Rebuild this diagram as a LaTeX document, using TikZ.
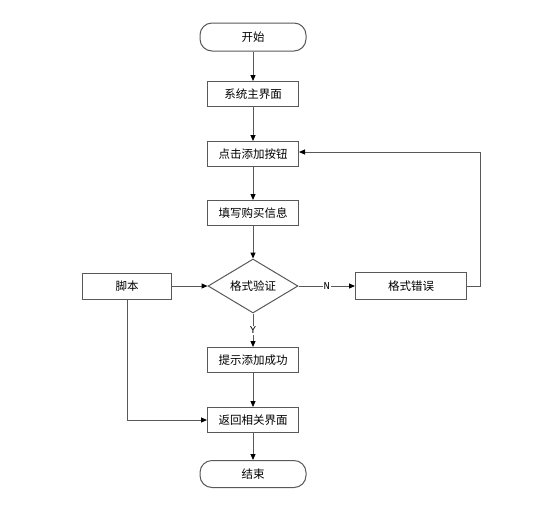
\documentclass[tikz,border=0pt]{standalone}
\usepackage{fontspec}
\newfontfamily\cjk{Noto Sans CJK SC}
\newfontfamily\monof{Liberation Mono}
\usetikzlibrary{arrows.meta,shapes.geometric}
\begin{document}
\begin{tikzpicture}[x=1pt,y=-1pt,
  font=\cjk\fontsize{11.5}{13}\selectfont,
  line width=1pt,
  box/.style={draw=black!65, fill=white, minimum width=91pt, minimum height=25pt, inner sep=0pt},
  term/.style={draw=black!65, fill=white, rounded corners=12pt, minimum width=106pt, minimum height=28pt, inner sep=0pt},
  dec/.style={draw=black!65, fill=white, diamond, aspect=1.67, minimum width=90pt, minimum height=54pt, inner sep=0pt},
  conn/.style={draw=black!65, -{Triangle[length=6pt,width=5pt,color=black]}},
  lbl/.style={font=\monof\fontsize{10.5}{11}\selectfont, fill=white, inner sep=1pt}
]
\useasboundingbox (0,0) rectangle (543,504);
\node[term] (start) at (253,37) {开始};
\node[box] (main) at (253,94) {系统主界面};
\node[box] (click) at (253,154) {点击添加按钮};
\node[box] (fill) at (253,213) {填写购买信息};
\node[dec] (check) at (253,286) {格式验证};
\node[box, minimum width=89pt, minimum height=26pt] (script) at (127,286) {脚本};
\node[box, minimum width=111pt, minimum height=27pt] (err) at (411,286) {格式错误};
\node[box] (ok) at (253,360) {提示添加成功};
\node[box] (back) at (253,420) {返回相关界面};
\node[term, minimum height=27pt] (end) at (253,474) {结束};
\coordinate (loopA) at (480,286);
\coordinate (loopB) at (480,152);
\coordinate (scrA) at (127,420);

\draw[conn] (start) -- (main);
\draw[conn] (main) -- (click);
\draw[conn] (click) -- (fill);
\draw[conn] (fill) -- (check);
\draw[conn] (check) -- node[lbl] {Y} (ok);
\draw[conn] (check) -- node[lbl] {N} (err);
\draw[conn] (script) -- (check);
\draw[conn] (ok) -- (back);
\draw[conn] (back) -- (end);
\draw[conn] (err.east) -- (loopA) -- (loopB) -- (click.east |- loopB);
\draw[conn] (script.south) -- (scrA) -- (back.west);
\end{tikzpicture}
\end{document}
